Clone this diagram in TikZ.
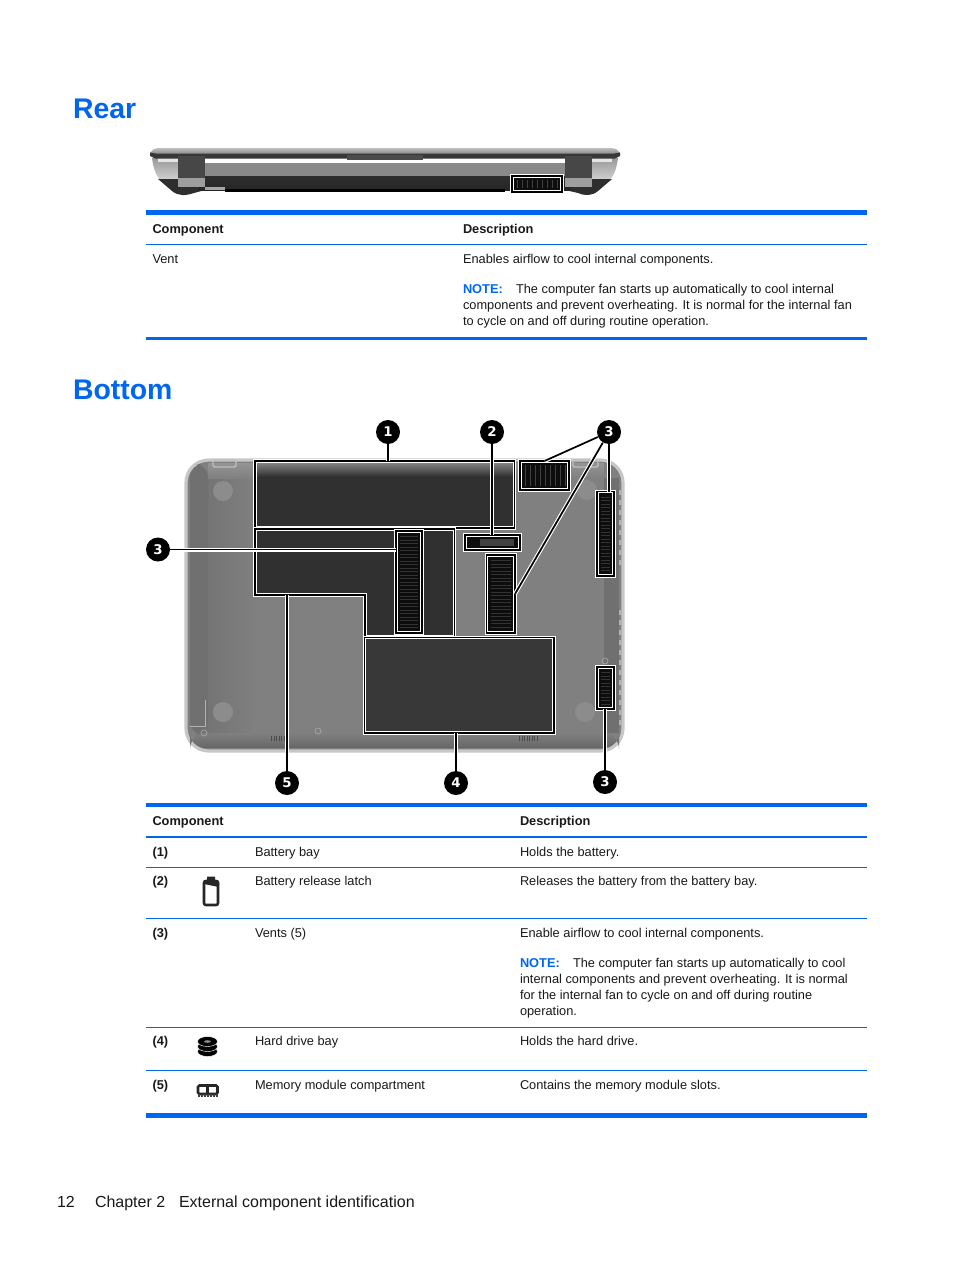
\documentclass[tikz,border=0pt]{standalone}
\usepackage{fontspec}
\setmainfont{Liberation Sans}
\newfontfamily\calloutfont{DejaVu Sans}
\usetikzlibrary{calc}
\definecolor{hpblue}{RGB}{0,102,240}
\definecolor{darkbay}{RGB}{48,48,48}
\newcommand{\bodyfont}{\fontsize{9.6pt}{12pt}\selectfont}
\tikzset{
  x=0.75pt,y=-0.75pt,
  txt/.style={anchor=base west,inner sep=0,outer sep=0,font=\bodyfont,text=black!90},
  btxt/.style={txt,font=\bodyfont\bfseries},
  notetxt/.style={txt,font=\bodyfont\bfseries,text=hpblue},
  heading/.style={anchor=base west,inner sep=0,outer sep=0,font=\fontsize{21.3pt}{24pt}\selectfont\bfseries,text=hpblue},
  footer/.style={anchor=base west,inner sep=0,outer sep=0,font=\fontsize{12pt}{14pt}\selectfont,text=black!90},
  thick rule/.style={draw=hpblue,line width=3.6pt},
  mid rule/.style={draw=hpblue,line width=2.2pt},
  thin rule/.style={draw=hpblue,line width=0.9pt},
  callout/.style={circle,fill=black,text=white,inner sep=0,minimum size=18pt,font=\calloutfont\fontsize{10pt}{10pt}\selectfont\bfseries},
  leader/.style={draw=black,line width=1.3pt,preaction={draw=white,line width=3pt}},
  hilite/.style={draw=white,double=black,line width=0.8pt,double distance=0.9pt,inner sep=0,outer sep=0},
}
% highlighted box as a named node
\newcommand{\hlbox}[6]{\node[hilite,fill=#6,minimum width={(#4-#2)*0.75pt},minimum height={(#5-#3)*0.75pt}] (#1) at ({(#2+#4)/2},{(#3+#5)/2}) {};}
% vent with horizontal slats
\newcommand{\ventH}[5]{\hlbox{#1}{#2}{#3}{#4}{#5}{black!95}
  \pgfmathsetmacro{\ya}{#3+5}\pgfmathsetmacro{\yb}{#3+8.5}\pgfmathsetmacro{\yc}{#5-4}
  \foreach \yy in {\ya,\yb,...,\yc}{\fill[black!80] ({#2+4},\yy) rectangle ({#4-4},{\yy+1});}}
% vent with vertical slats
\newcommand{\ventV}[5]{\hlbox{#1}{#2}{#3}{#4}{#5}{black!95}
  \pgfmathsetmacro{\xa}{#2+5}\pgfmathsetmacro{\xb}{#2+10}\pgfmathsetmacro{\xc}{#4-4}
  \foreach \xx in {\xa,\xb,...,\xc}{\fill[black!75] (\xx,{#3+4}) rectangle ({\xx+1.2},{#5-4});}}
\begin{document}
\begin{tikzpicture}
\useasboundingbox (0,0) rectangle (954,1270);
\fill[white] (0,0) rectangle (954,1270);

% ---------- headings
\node[heading] (hrear) at (73,118) {Rear};
\node[heading] (hbottom) at (73,399) {Bottom};

% ---------- rear view of the laptop
\shade[top color=black!40,bottom color=black!15] (152,158) -- (178,158) -- (178,183) -- (160,180) .. controls (154,172) and (153,165) .. (152,158);
\shade[top color=black!40,bottom color=black!15] (618,158) -- (592,158) -- (592,183) -- (610,180) .. controls (616,172) and (617,165) .. (618,158);
\fill[black!10] (158,158) rectangle (178,162);
\fill[black!10] (592,158) rectangle (612,162);
\fill[black!82] (158,179) -- (205,179) -- (205,190) -- (194,193) .. controls (185,196) and (178,196) .. (172,191) -- cycle;
\fill[black!82] (612,179) -- (565,179) -- (565,190) -- (578,193) .. controls (585,196) and (592,196) .. (598,191) -- cycle;
\fill[black!46] (205,161) rectangle (565,176);
\fill[white] (205,159.5) rectangle (565,163);
\shade[top color=black!82,middle color=black!68,bottom color=black!85] (198,176) rectangle (572,190);
\fill[black!35] (205,187) rectangle (225,190);
\fill[black] (225,188.5) rectangle (505,191.5);
\shade[top color=black!25,bottom color=black!50] (150,153) .. controls (152,150) and (154,148) .. (160,148) -- (610,148) .. controls (616,148) and (618,150) .. (620,153) -- (620,155) -- (150,155) -- cycle;
\fill[black!78] (150,152.5) -- (156,153.5) -- (614,153.5) -- (620,152.5) -- (620,156) -- (615,158.5) -- (155,158.5) -- (150,156) -- cycle;
\fill[black!70] (347,155) rectangle (423,159.5);
\foreach \hx in {178,565}{
  \fill[black!72] (\hx,156) rectangle ({\hx+27},178);
  \fill[black!38] (\hx,178) rectangle ({\hx+27},187);
}
\ventV{rearvent}{512}{176}{562}{192}

% ---------- rear table
\draw[thick rule] (146,212.5) -- (867,212.5);
\draw[thin rule] (146,244.5) -- (867,244.5);
\draw[mid rule] (146,338.5) -- (867,338.5);
\node[btxt] (ra) at (152.5,233) {Component};
\node[btxt] (rb) at (463,233) {Description};
\node[txt] (rc) at (152.5,263) {Vent};
\node[txt] (rd) at (463,263) {Enables airflow to cool internal components.};
\node[notetxt] (re) at (463,293) {NOTE:};
\node[txt] (rf) at (516,293) {The computer fan starts up automatically to cool internal};
\node[txt] (rg) at (463,309) {components and prevent overheating. It is normal for the internal fan};
\node[txt] (rh) at (463,325) {to cycle on and off during routine operation.};

% ---------- bottom view of the laptop
\filldraw[draw=black!22,line width=2.4pt,fill=black!50,rounded corners=17pt] (186,460) rectangle (623,751);
\shade[left color=black!56,right color=black!50,rounded corners=12pt] (190,474) rectangle (255,735);
\fill[black!56,rounded corners=10pt] (190,464) -- (208,464) -- (208,735) -- (190,735) -- cycle;
\shade[top color=black!42,bottom color=black!50] (208,463) rectangle (604,478);
\shade[top color=black!50,bottom color=black!60,rounded corners=12pt] (190,733) rectangle (619,748);
\fill[black!56] (604,478) rectangle (619,733);
\draw[black!30,line width=0.7pt] (190,726) -- (205,726) -- (205,700);
\foreach \cx/\cy in {223/491,223/712,585/712,587/490}{\fill[black!45] (\cx,\cy) circle (10);}
\foreach \cx/\cy in {318/731,605/661,204/733}{\draw[black!35,line width=0.5pt] (\cx,\cy) circle (3);}
\draw[black!25,line width=1pt,rounded corners=1pt] (213,460) rectangle (236,467);
\draw[black!25,line width=1pt,rounded corners=1pt] (573,460) rectangle (598,467);
\foreach \sx in {271,273.5,...,284}{\fill[black!70] (\sx,736) rectangle ({\sx+1.2},741);}
\foreach \sx in {519,521.5,...,537}{\fill[black!70] (\sx,736) rectangle ({\sx+1.2},741);}
\foreach \sy in {490,500,...,560,610,620,...,720}{\fill[black!30] (619,\sy) rectangle (621.5,{\sy+5});}

% bays
\hlbox{bay}{255}{461}{514.5}{528}{darkbay}
\shade[top color=black!50,bottom color=black!82] (257,463) rectangle (512.5,477);
\filldraw[draw=white,double=black,line width=0.8pt,double distance=0.9pt,fill=darkbay]
  (255,529) -- (454.5,529) -- (454.5,637) -- (365,637) -- (365,595) -- (255,595) -- cycle;
\coordinate (memcorner) at (287,595);
\hlbox{hdd}{364.5}{637.5}{554}{733}{black!78}
\ventH{ventA}{396}{531}{422}{633}
\ventH{ventB}{486.5}{555}{515}{633}
\ventV{ventC}{520}{461}{569}{490}
\ventH{ventD}{597}{491.5}{614}{576}
\ventH{ventE}{597}{667}{614}{709}
\hlbox{latch}{465}{535}{520}{550}{black!95}
\fill[black!75] (480,539) rectangle (514,546);

% callouts
\node[callout] (c1) at (388,432) {1};
\node[callout] (c2) at (492,432) {2};
\node[callout] (c3a) at (609,432) {3};
\node[callout] (c3b) at (158,549.5) {3};
\node[callout] (c5) at (287,783) {5};
\node[callout] (c4) at (456,783) {4};
\node[callout] (c3c) at (605,782) {3};
\draw[leader] (c1) -- (c1 |- bay.north);
\draw[leader] (c2) -- (c2 |- latch.north);
\draw[leader] (c3a) -- (ventC.north);
\draw[leader] (c3a) -- (ventB.east);
\draw[leader] (c3a) -- (c3a |- ventD.north);
\draw[leader] (c3b) -- (c3b -| ventA.west);
\draw[leader] (c5) -- (memcorner);
\draw[leader] (c4) -- (c4 |- hdd.south);
\draw[leader] (c3c) -- (c3c |- ventE.south);

% ---------- bottom table
\draw[thick rule] (146,805) -- (867,805);
\draw[mid rule] (146,837) -- (867,837);
\draw[thin rule] (146,867.5) -- (867,867.5);
\draw[thin rule] (146,918.5) -- (867,918.5);
\draw[thin rule] (146,1027.5) -- (867,1027.5);
\draw[thin rule] (146,1070.5) -- (867,1070.5);
\draw[thick rule] (146,1115.5) -- (867,1115.5);
\node[btxt] (ba) at (152.5,825) {Component};
\node[btxt] (bb) at (520,825) {Description};
\node[btxt] (n1) at (152.5,856) {(1)};
\node[txt] (l1) at (255,856) {Battery bay};
\node[txt] (d1) at (520,856) {Holds the battery.};
\node[btxt] (n2) at (152.5,885) {(2)};
\node[txt] (l2) at (255,885) {Battery release latch};
\node[txt] (d2) at (520,885) {Releases the battery from the battery bay.};
\node[btxt] (n3) at (152.5,937) {(3)};
\node[txt] (l3) at (255,937) {Vents (5)};
\node[txt] (d3) at (520,937) {Enable airflow to cool internal components.};
\node[notetxt] (d3n) at (520,967) {NOTE:};
\node[txt] (d3a) at (573,967) {The computer fan starts up automatically to cool};
\node[txt] (d3b) at (520,983) {internal components and prevent overheating. It is normal};
\node[txt] (d3c) at (520,999) {for the internal fan to cycle on and off during routine};
\node[txt] (d3d) at (520,1015) {operation.};
\node[btxt] (n4) at (152.5,1045) {(4)};
\node[txt] (l4) at (255,1045) {Hard drive bay};
\node[txt] (d4) at (520,1045) {Holds the hard drive.};
\node[btxt] (n5) at (152.5,1089) {(5)};
\node[txt] (l5) at (255,1089) {Memory module compartment};
\node[txt] (d5) at (520,1089) {Contains the memory module slots.};

% icons
\filldraw[draw=black!85,line width=1.9pt,fill=white,rounded corners=1.5pt] (204,881) rectangle (218,905);
\fill[black!85,rounded corners=1pt] (203,880) -- (219,880) -- (219,887) -- (204,884) -- cycle;
\fill[black!85,rounded corners=0.5pt] (207,876.5) rectangle (215,881);
\foreach \iy in {1051.5,1046.5,1041.5}{
  \filldraw[draw=white,line width=0.35pt,fill=black] (207.5,\iy) ellipse (10 and 5);
}
\fill[black!45] (207.5,1041.5) ellipse (3.5 and 1.3);
\filldraw[draw=black!85,line width=1.9pt,fill=white,rounded corners=1pt] (198,1085.5) rectangle (217.5,1094);
\draw[black!85,line width=1.9pt] (207.7,1085.5) -- (207.7,1094);
\foreach \ix in {198,201,...,216}{\fill[black!75] (\ix,1094) rectangle ({\ix+1.5},1097);}

% footer
\node[footer] (f1) at (57,1207) {12};
\node[footer] (f2) at (95,1207) {Chapter 2};
\node[footer] (f3) at (179,1207) {External component identification};
\end{tikzpicture}
\end{document}
